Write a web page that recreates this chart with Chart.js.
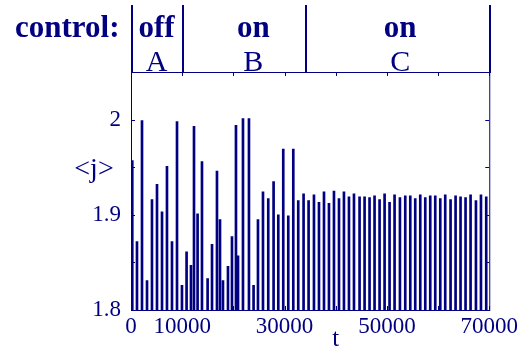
<!DOCTYPE html>
<html>
<head>
<meta charset="utf-8">
<script src="https://cdn.jsdelivr.net/npm/chart.js@4/dist/chart.umd.min.js"></script>
<style>
  html, body { margin: 0; padding: 0; background: #ffffff; }
  #wrap { width: 521px; height: 348px; }
</style>
</head>
<body>
<div id="wrap"><canvas id="c" width="521" height="348"></canvas></div>
<script>
// Peak times t of each <j> spike
const spikeTimes = [
  250, 1170, 2150, 3130, 4100, 5080, 6060, 7030, 8010, 8990,
  9960, 10860, 11720, 12310, 13010, 13870, 14970, 15830, 16800, 17390,
  17970, 18950, 19730, 20510, 20910, 21880, 23050, 23950, 24810, 25790,
  26820, 27860, 28780, 29750, 30730, 31710, 32680, 33720, 34700, 35750,
  36730, 37710, 38680, 39660, 40640, 41610, 42590, 43570, 44660, 45640,
  46610, 47590, 48570, 49550, 50520, 51500, 52550, 53590, 54570, 55540,
  56520, 57500, 58470, 59450, 60430, 61400, 62440, 63420, 64390, 65370,
  66350, 67400, 68380, 69410
];
// Peak heights <j> of each spike
const spikeValues = [
  1.957, 1.872, 1.999, 1.831, 1.916, 1.932, 1.903, 1.951, 1.872, 1.998,
  1.826, 1.861, 1.847, 1.993, 1.901, 1.956, 1.833, 1.869, 1.946, 1.895,
  1.831, 1.846, 1.877, 1.994, 1.857, 2.001, 2.001, 1.826, 1.895, 1.924,
  1.917, 1.935, 1.900, 1.969, 1.899, 1.969, 1.915, 1.922, 1.915, 1.921,
  1.913, 1.924, 1.912, 1.925, 1.917, 1.924, 1.919, 1.922, 1.919, 1.919,
  1.918, 1.920, 1.916, 1.922, 1.913, 1.921, 1.918, 1.920, 1.920, 1.917,
  1.921, 1.918, 1.920, 1.920, 1.917, 1.921, 1.916, 1.920, 1.919, 1.918,
  1.921, 1.915, 1.921, 1.919
];
// Labelled ticks
const xTickLabels = [0, 10000, 30000, 50000, 70000];
const yTickLabels = [1.8, 1.9, 2];
// Control phases along t
const controlBounds = [0, 10000, 34000, 70000];
const controlStates = ['off', 'on', 'on'];
const controlNames = ['A', 'B', 'C'];
const controlLabelT = [5000, 23900, 52600];

const NAVY = '#000080';
const SERIF = '"Liberation Serif", "Times New Roman", serif';

const frame = {
  id: 'frame',
  afterDraw(chart) {
    const ctx = chart.ctx;
    const a = chart.chartArea;
    const xs = chart.scales.x, ys = chart.scales.y;
    ctx.save();
    ctx.strokeStyle = NAVY;
    ctx.lineWidth = 1;
    ctx.strokeRect(a.left + 0.5, a.top + 0.5, a.right - a.left, a.bottom - a.top);

    // inward tick marks on all four sides
    ctx.beginPath();
    xs.ticks.forEach(t => {
      const px = Math.round(xs.getPixelForValue(t.value)) + 0.5;
      ctx.moveTo(px, a.bottom); ctx.lineTo(px, a.bottom - 4);
      ctx.moveTo(px, a.top); ctx.lineTo(px, a.top + 4);
    });
    ys.ticks.forEach(t => {
      const py = Math.round(ys.getPixelForValue(t.value)) + 0.5;
      ctx.moveTo(a.left, py); ctx.lineTo(a.left + 4, py);
      ctx.moveTo(a.right, py); ctx.lineTo(a.right - 4, py);
    });
    ctx.stroke();

    // control phase header
    ctx.lineWidth = 2;
    ctx.beginPath();
    controlBounds.forEach(b => {
      const px = Math.round(xs.getPixelForValue(b)) + 1;
      ctx.moveTo(px, 5); ctx.lineTo(px, a.top + 1);
    });
    ctx.stroke();

    ctx.fillStyle = NAVY;
    ctx.textBaseline = 'alphabetic';
    ctx.textAlign = 'left';
    ctx.font = 'bold 31px ' + SERIF;
    ctx.fillText('control:', 15, 37);
    ctx.textAlign = 'center';
    controlStates.forEach((s, i) => {
      const px = xs.getPixelForValue(controlLabelT[i]);
      ctx.font = 'bold 31px ' + SERIF;
      ctx.fillText(s, px, 37);
      ctx.font = '30px ' + SERIF;
      ctx.fillText(controlNames[i], px, 71);
    });

    // axis titles
    ctx.font = '28px ' + SERIF;
    ctx.textBaseline = 'alphabetic';
    ctx.fillText('<j>', 94, 177);
    ctx.font = '25px ' + SERIF;
    ctx.fillText('t', xs.getPixelForValue(40000), 346);
    ctx.restore();
  }
};

new Chart(document.getElementById('c'), {
  type: 'bar',
  data: {
    datasets: [{
      data: spikeTimes.map((t, i) => ({ x: t, y: spikeValues[i] })),
      backgroundColor: NAVY,
      borderWidth: 0,
      barThickness: 2
    }]
  },
  options: {
    responsive: false,
    animation: false,
    layout: { autoPadding: false, padding: { left: 0, right: 31, top: 72, bottom: 0 } },
    plugins: { legend: { display: false }, tooltip: { enabled: false } },
    scales: {
      x: {
        type: 'linear',
        min: 0, max: 70000,
        offset: false,
        grid: { display: false, drawTicks: false, offset: false },
        border: { display: false },
        ticks: {
          stepSize: 10000,
          autoSkip: false,
          maxRotation: 0,
          padding: 3,
          color: NAVY,
          font: { family: SERIF, size: 23 },
          callback: v => xTickLabels.includes(v) ? String(v) : ''
        },
        afterFit: s => { s.height = 38; }
      },
      y: {
        min: 1.8, max: 2.05,
        grid: { display: false, drawTicks: false },
        border: { display: false },
        ticks: {
          stepSize: 0.05,
          padding: 10,
          color: NAVY,
          font: { family: SERIF, size: 23 },
          callback: v => {
            const hit = yTickLabels.find(l => Math.abs(l - v) < 1e-6);
            return hit === undefined ? '' : String(hit);
          }
        },
        afterFit: s => { s.width = 131; }
      }
    }
  },
  plugins: [frame]
});
</script>
</body>
</html>
